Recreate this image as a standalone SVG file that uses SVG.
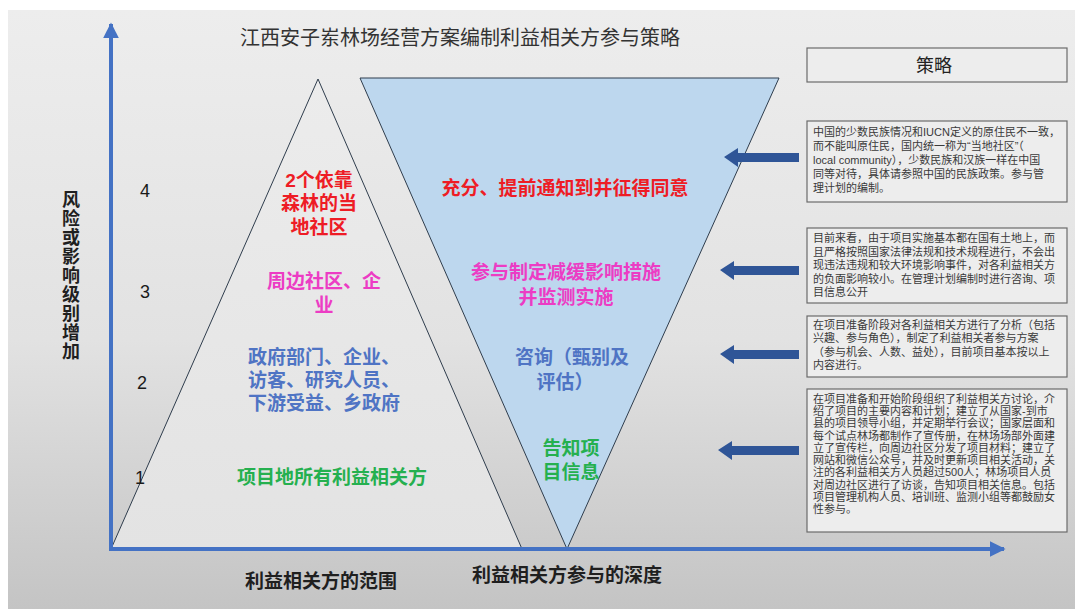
<svg xmlns="http://www.w3.org/2000/svg" width="1075" height="611" viewBox="0 0 1075 611">
<defs>
<linearGradient id="bg" x1="0" y1="0" x2="0" y2="1">
<stop offset="0" stop-color="#ededed"/>
<stop offset="0.55" stop-color="#e2e2e2"/>
<stop offset="1" stop-color="#c4c4c4"/>
</linearGradient>
<linearGradient id="tri" x1="0" y1="0" x2="0" y2="1">
<stop offset="0" stop-color="#ececec"/>
<stop offset="1" stop-color="#e3e3e3"/>
</linearGradient>
<marker id="axh" viewBox="0 0 10 10" refX="9" refY="5" markerWidth="4" markerHeight="4" orient="auto" markerUnits="strokeWidth">
<path d="M0,0 L10,5 L0,10 Z" fill="#4472c4"/>
</marker>
</defs>
<style>
text{font-family:"Noto Sans CJK SC","Liberation Sans",sans-serif}
.lbl{font-family:"Liberation Sans","Noto Sans CJK SC",sans-serif;font-weight:bold;font-size:19px}
.red{fill:#ee1c25}
.mag{fill:#ec3cc4}
.blu{fill:#4f74c4}
.grn{fill:#25b04f}
.num{font-family:"Liberation Sans","Noto Sans CJK SC",sans-serif;font-size:18px;fill:#1a1a1a}
.axl{font-weight:bold;font-size:19px;fill:#1f1f1f}
.box{fill:#ededed;stroke:#6b6b6b;stroke-width:1.2}
.bt{font-family:"Liberation Sans","Noto Sans CJK SC",sans-serif;font-size:11px;fill:#3a3a3a}
.axis{stroke:#4472c4;stroke-width:4;fill:none}
.barr{fill:#2f5597}
</style>
<rect x="0" y="0" width="1075" height="611" fill="#ffffff"/>
<rect x="8" y="10" width="1067" height="599" fill="url(#bg)"/>
<text x="460" y="45" text-anchor="middle" font-size="20" fill="#333333">江西安子岽林场经营方案编制利益相关方参与策略</text>

<g id="scope-triangle">
<polygon points="318,79 111,549 522,549" fill="url(#tri)" stroke="#2f3d4d" stroke-width="1"/>
<text class="lbl red" text-anchor="middle"><tspan x="319" y="187">2个依靠</tspan><tspan x="319" y="210">森林的当</tspan><tspan x="319" y="234">地社区</tspan></text>
<text class="lbl mag" text-anchor="middle"><tspan x="324" y="288">周边社区、企</tspan><tspan x="324" y="312">业</tspan></text>
<text class="lbl blu"><tspan x="248" y="364">政府部门、企业、</tspan><tspan x="248" y="387">访客、研究人员、</tspan><tspan x="248" y="410">下游受益、乡政府</tspan></text>
<text class="lbl grn" x="332" y="484" text-anchor="middle">项目地所有利益相关方</text>
</g>

<g id="depth-triangle">
<polygon points="360,78 779,78 567,549" fill="#bdd7ee" stroke="#2f3d4d" stroke-width="1"/>
<text class="lbl red" x="565" y="195" text-anchor="middle">充分、提前通知到并征得同意</text>
<text class="lbl mag" text-anchor="middle"><tspan x="566" y="279">参与制定减缓影响措施</tspan><tspan x="566" y="304">并监测实施</tspan></text>
<text class="lbl blu" text-anchor="middle"><tspan x="572" y="364">咨询（甄别及</tspan><tspan x="565" y="389">评估）</tspan></text>
<text class="lbl grn" text-anchor="middle"><tspan x="571" y="455">告知项</tspan><tspan x="571" y="479">目信息</tspan></text>
</g>

<g id="levels">
<text class="num" x="145" y="197" text-anchor="middle">4</text>
<text class="num" x="145" y="298" text-anchor="middle">3</text>
<text class="num" x="142" y="389" text-anchor="middle">2</text>
<text class="num" x="140" y="484" text-anchor="middle">1</text>
</g>

<g id="y-label">
<text class="axl" x="71" y="190" style="writing-mode:vertical-rl;font-size:18px;letter-spacing:1px">风险或影响级别增加</text>
</g>

<g id="x-labels">
<text class="axl" x="321" y="588" text-anchor="middle">利益相关方的范围</text>
<text class="axl" x="567" y="582" text-anchor="middle">利益相关方参与的深度</text>
</g>

<g id="strategy-header">
<rect class="box" x="807" y="48" width="260" height="34"/>
<text x="934" y="72" text-anchor="middle" font-size="18" fill="#222222">策略</text>
</g>

<g id="strategy-1">
<rect class="box" x="807" y="121" width="260" height="81"/>
<text class="bt"><tspan x="813" y="136">中国的少数民族情况和IUCN定义的原住民不一致，</tspan><tspan x="813" y="150">而不能叫原住民，国内统一称为“当地社区”（</tspan><tspan x="813" y="164">local community），少数民族和汉族一样在中国</tspan><tspan x="813" y="178">同等对待，具体请参照中国的民族政策。参与管</tspan><tspan x="813" y="192">理计划的编制。</tspan></text>
</g>

<g id="strategy-2">
<rect class="box" x="807" y="228" width="260" height="75"/>
<text class="bt"><tspan x="813" y="242">目前来看，由于项目实施基本都在国有土地上，而</tspan><tspan x="813" y="256">且严格按照国家法律法规和技术规程进行，不会出</tspan><tspan x="813" y="269">现违法违规和较大环境影响事件，对各利益相关方</tspan><tspan x="813" y="283">的负面影响较小。在管理计划编制时进行咨询、项</tspan><tspan x="813" y="296">目信息公开</tspan></text>
</g>

<g id="strategy-3">
<rect class="box" x="807" y="316" width="260" height="61"/>
<text class="bt"><tspan x="813" y="329">在项目准备阶段对各利益相关方进行了分析（包括</tspan><tspan x="813" y="342">兴趣、参与角色），制定了利益相关者参与方案</tspan><tspan x="813" y="356">（参与机会、人数、益处），目前项目基本按以上</tspan><tspan x="813" y="369">内容进行。</tspan></text>
</g>

<g id="strategy-4">
<rect class="box" x="807" y="389" width="260" height="143"/>
<text class="bt"><tspan x="813" y="403">在项目准备和开始阶段组织了利益相关方讨论，介</tspan><tspan x="813" y="415">绍了项目的主要内容和计划；建立了从国家-到市</tspan><tspan x="813" y="427">县的项目领导小组，并定期举行会议；国家层面和</tspan><tspan x="813" y="440">每个试点林场都制作了宣传册，在林场场部外面建</tspan><tspan x="813" y="452">立了宣传栏，向周边社区分发了项目材料；建立了</tspan><tspan x="813" y="464">网站和微信公众号，并及时更新项目相关活动，关</tspan><tspan x="813" y="476">注的各利益相关方人员超过500人；林场项目人员</tspan><tspan x="813" y="489">对周边社区进行了访谈，告知项目相关信息。包括</tspan><tspan x="813" y="501">项目管理机构人员、培训班、监测小组等都鼓励女</tspan><tspan x="813" y="513">性参与。</tspan></text>
</g>

<g id="connectors">
<line class="axis" x1="111" y1="551" x2="111" y2="24" marker-end="url(#axh)"/>
<line class="axis" x1="109" y1="549" x2="1004" y2="549" marker-end="url(#axh)"/>
<polygon class="barr" points="724,157 738,148 738,153 799,153 799,162 738,162 738,167"/>
<polygon class="barr" points="720,270 734,261 734,266 799,266 799,275 734,275 734,280"/>
<polygon class="barr" points="720,354 734,345 734,350 799,350 799,359 734,359 734,364"/>
<polygon class="barr" points="718,450 732,441 732,446 799,446 799,455 732,455 732,460"/>
</g>
</svg>
